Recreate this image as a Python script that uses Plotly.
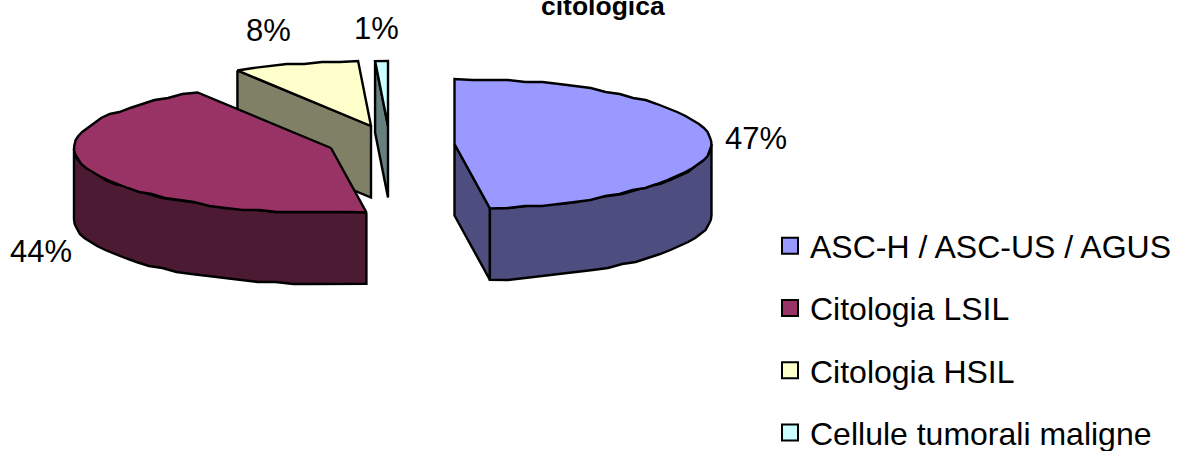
import numpy as np
import plotly.graph_objects as go

categories = ["ASC-H / ASC-US / AGUS", "Citologia LSIL", "Citologia HSIL", "Cellule tumorali maligne"]
values = [47.8, 43.5, 7.9, 0.8]
value_labels = ["47%", "44%", "8%", "1%"]
top_colors = ["#9999FF", "#993366", "#FFFFCC", "#CCFFFF"]
side_colors = ["#4D4D80", "#4D1A33", "#808066", "#668080"]
title_text = "citologica"

FONT = "Liberation Sans, Arial, sans-serif"
W, H = 1186, 480
RX, RY, DEPTH = 257, 65, 71.5
centers = [(454.5, 144), (331, 148), (371, 126), (388, 126)]
label_pos = [(756, 138), (41, 251), (268, 30), (376, 28)]
STEP = 4.0


def pt(c, a, dz=0.0):
    r = np.radians(a)
    return c[0] + RX * np.sin(r), c[1] - RY * np.cos(r) + dz


def arc(c, a0, a1, dz=0.0):
    n = max(2, int(abs(a1 - a0) / STEP) + 1)
    xs, ys = pt(c, np.linspace(a0, a1, n), dz)
    ys = np.array(ys)
    ys[1:-1] = np.round(ys[1:-1] / 2) * 2   # slightly stepped outline of the original rendering
    return list(xs), list(ys)


fig = go.Figure()


def poly(xs, ys, fill, width=2.4):
    fig.add_trace(go.Scatter(
        x=list(xs) + [xs[0]], y=list(ys) + [ys[0]], mode="lines", fill="toself",
        fillcolor=fill, line=dict(color="black", width=width), showlegend=False, hoverinfo="skip"))


total = sum(values)
ends = np.cumsum(values) / total * 360
starts = np.concatenate([[0], ends[:-1]])

for i in [2, 3, 1, 0]:
    c, a0, a1 = centers[i], float(starts[i]), float(ends[i])
    # radial side walls
    if 90 < a1 < 270:
        ex, ey = pt(c, a1)
        poly([c[0], ex, ex, c[0]], [c[1], ey, ey + DEPTH, c[1] + DEPTH], side_colors[i])
    if a0 >= 270:
        ex, ey = pt(c, a0)
        poly([ex, c[0], c[0], ex], [ey, c[1], c[1] + DEPTH, ey + DEPTH], side_colors[i])
    # outer rim, front half only
    lo, hi = max(a0, 90), min(a1, 270)
    if hi > lo:
        xt, yt = arc(c, lo, hi)
        xb, yb = arc(c, hi, lo, DEPTH)
        poly(xt + xb, yt + yb, side_colors[i])
    # top face
    xa, ya = arc(c, a0, a1)
    poly([c[0]] + xa, [c[1]] + ya, top_colors[i])

for name, col in zip(categories, top_colors):
    fig.add_trace(go.Scatter(
        x=[None], y=[None], mode="markers", name=name, legendgroup=name,
        marker=dict(symbol="square", size=16, color=col, line=dict(color="black", width=2))))

for txt, (x, y) in zip(value_labels, label_pos):
    fig.add_annotation(x=x, y=y, text=txt, showarrow=False, xanchor="center", yanchor="middle",
                       font=dict(family=FONT, size=31, color="black"))

fig.add_annotation(x=603, y=23, text="<b>" + title_text + "</b>", showarrow=False,
                   xanchor="center", yanchor="bottom", font=dict(family=FONT, size=26.5, color="black"))

fig.update_layout(
    width=W, height=H, autosize=False, margin=dict(l=0, r=0, t=0, b=0, autoexpand=False),
    paper_bgcolor="white", plot_bgcolor="white",
    xaxis=dict(range=[0, W], visible=False, fixedrange=True),
    yaxis=dict(range=[H, 0], visible=False, fixedrange=True),
    legend=dict(x=770 / W, y=1 - 218.5 / H, xanchor="left", yanchor="top", tracegroupgap=17.6,
                font=dict(family=FONT, size=32, color="black"), bgcolor="rgba(0,0,0,0)"),
)
fig.write_html("out.html", config={"displayModeBar": False},
               post_script="document.body.style.margin='0';document.body.style.overflow='hidden';")
